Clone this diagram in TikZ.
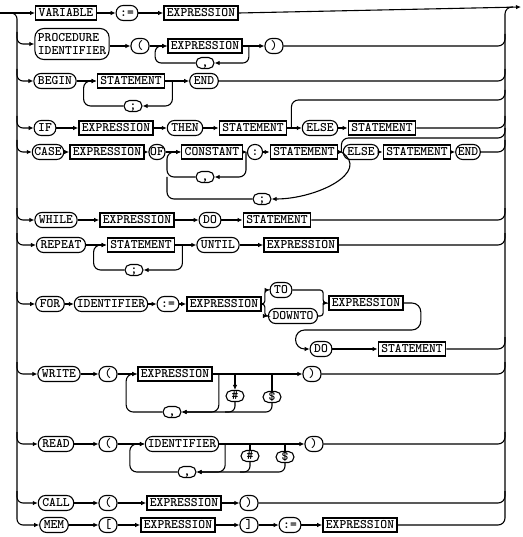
\documentclass[tikz,border=0pt]{standalone}
\usepackage{fontspec}
\usetikzlibrary{arrows.meta,calc}

\begin{document}
\begin{tikzpicture}[x=1pt,y=-1pt,>={Latex[length=5pt,width=4.5pt]},line width=1.1pt,
  every node/.style={font=\ttfamily\bfseries\fontsize{13}{13.5}\selectfont},
  nt/.style={draw,line width=1.4pt,inner xsep=3pt,inner ysep=0pt,minimum height=14pt,text height=8pt,text depth=1pt},
  tm/.style={draw,rounded corners=7pt,inner xsep=4pt,inner ysep=0pt,minimum width=18pt,minimum height=15pt,text height=8pt,text depth=1pt},
  sm/.style={tm,rounded corners=5.5pt,minimum height=11pt,minimum width=18pt},
  tmr/.style={draw,rounded corners=9pt,align=left,inner sep=3pt,minimum height=31pt}]
\useasboundingbox (0,0) rectangle (522,537);
\coordinate (in) at (0,13);
\coordinate (out) at (521,7);
\coordinate (lt) at (17,13);
\coordinate (rt) at (505,7);
\coordinate (by4) at (505,100);
\coordinate (by5) at (505,138);
\node[nt] (var) at (66,13) {VARIABLE};
\node[tm] (as1) at (127,13) {:=};
\node[nt] (ex1) at (201,13) {EXPRESSION};
\draw[->] (in) -- (var);
\draw[->] (var) -- (as1);
\draw[->] (as1) -- (ex1);
\draw[->] (ex1.east) -- (out);
\node[tmr] (proc) at (72,44) {PROCEDURE\\IDENTIFIER};
\node[tm] (lp2) at (140,46) {(};
\node[nt] (ex2) at (205,46) {EXPRESSION};
\node[sm] (cm2) at (205,63) {,};
\node[tm] (rp2) at (274,46) {)};
\draw[->] (proc.east |- lp2) -- (lp2);
\draw[->] (lp2) -- (ex2);
\draw[->] (ex2) -- (rp2);
\draw[->,rounded corners=6pt] ($(ex2.east)+(6,0)$) |- (cm2.east);
\draw[->,rounded corners=6pt] (cm2.west) -| ($(ex2.west)+(-12,0)$) -- (ex2.west);
\node[tm] (bg3) at (55,81) {BEGIN};
\node[nt] (st3) at (131,81) {STATEMENT};
\node[sm] (sc3) at (133,106) {;};
\node[tm] (en3) at (204,81) {END};
\draw[->] (bg3) -- (st3);
\draw[->] (st3) -- (en3);
\draw[->,rounded corners=7pt] ($(st3.east)+(7,0)$) |- (sc3.east);
\draw[->,rounded corners=7pt] (sc3.west) -| ($(st3.west)+(-13,0)$) -- (st3.west);
\node[tm] (if4) at (45,128) {IF};
\node[nt] (ex4) at (116,128) {EXPRESSION};
\node[tm] (th4) at (185,128) {THEN};
\node[nt] (st4) at (253,128) {STATEMENT};
\node[tm] (el4) at (320,128) {ELSE};
\node[nt] (sb4) at (382,128) {STATEMENT};
\draw[->] (if4) -- (ex4);
\draw[->] (ex4) -- (th4);
\draw[->] (th4) -- (st4);
\draw[->] (st4) -- (el4);
\draw[->] (el4) -- (sb4);
\draw[rounded corners=7pt] ($(st4.east)+(4,0)$) |- (by4) -- ++(0,-10);
\node[tm,inner xsep=2pt] (cs5) at (48,152) {CASE};
\node[nt] (ex5) at (107,152) {EXPRESSION};
\node[tm,inner xsep=1pt,minimum width=16pt] (of5) at (157,152) {OF};
\node[nt] (con) at (212,152) {CONSTANT};
\node[tm,minimum width=14pt] (cl5) at (255,152) {:};
\node[nt] (st5) at (304,152) {STATEMENT};
\node[tm] (el5) at (361,152) {ELSE};
\node[nt] (sb5) at (417,152) {STATEMENT};
\node[tm,inner xsep=2pt] (en5) at (468,152) {END};
\node[sm] (cm5) at (205,177) {,};
\node[sm] (sc5) at (262,199) {;};
\draw[->] (cs5) -- (ex5);
\draw[->] (ex5) -- (of5);
\draw[->] (of5) -- (con);
\draw[->] (con) -- (cl5);
\draw[->] (cl5) -- (st5);
\draw[->] (st5) -- (el5);
\draw[->] (el5) -- (sb5);
\draw[->] (sb5) -- (en5);
\draw[->,rounded corners=7pt] ($(con.east)+(3,0)$) |- (cm5.east);
\draw[->,rounded corners=7pt] (cm5.west) -| ($(con.west)+(-14,0)$) -- (con.west);
\draw[->] ($(st5.east)+(3,0)$) .. controls +(30,20) and +(45,0) .. (sc5.east);
\draw[rounded corners=7pt] (sc5.west) -| ($(cm5.west -| con.west)+(-14,0)$);
\draw[rounded corners=7pt] ($(st5.east)+(3,0)$) |- (by5) -- ++(0,-10);
\node[tm] (wh6) at (56,220) {WHILE};
\node[nt] (ex6) at (137,220) {EXPRESSION};
\node[tm] (do6) at (210,220) {DO};
\node[nt] (st6) at (277,220) {STATEMENT};
\draw[->] (wh6) -- (ex6);
\draw[->] (ex6) -- (do6);
\draw[->] (do6) -- (st6);
\node[tm] (rep7) at (61,245) {REPEAT};
\node[nt] (st7) at (141,245) {STATEMENT};
\node[sm] (sc7) at (134,270) {;};
\node[tm] (un7) at (218,245) {UNTIL};
\node[nt] (ex7) at (301,245) {EXPRESSION};
\draw[->] (rep7) -- (st7);
\draw[->] (st7) -- (un7);
\draw[->] (un7) -- (ex7);
\draw[->,rounded corners=7pt] ($(st7.east)+(7,0)$) |- (sc7.east);
\draw[->,rounded corners=7pt] (sc7.west) -| ($(st7.west)+(-13,0)$) -- (st7.west);
\node[tm] (fr8) at (50,304) {FOR};
\node[tm,inner xsep=2.5pt] (id8) at (111,304) {IDENTIFIER};
\node[tm] (as8) at (168,304) {:=};
\node[nt] (ex8) at (224,304) {EXPRESSION};
\node[tm] (to8) at (281,290) {TO};
\node[tm] (dt8) at (293,316) {DOWNTO};
\node[nt] (eb8) at (366,303) {EXPRESSION};
\node[tm] (do8) at (321,349) {DO};
\node[nt] (st8) at (412,349) {STATEMENT};
\draw[->] (fr8) -- (id8);
\draw[->] (id8) -- (as8);
\draw[->] (as8) -- (ex8);
\draw[->,rounded corners=3pt] (ex8.east) -- ++(3,0) |- (to8.west);
\draw[->,rounded corners=3pt] (ex8.east) -- ++(3,0) |- (dt8.west);
\draw[->,rounded corners=3pt] (to8.east) -| ($(eb8.west)+(-5,0)$) -- (eb8.west);
\draw[rounded corners=3pt] (dt8.east) -| ($(eb8.west)+(-5,0)$);
\draw[->,rounded corners=9pt] (eb8.east) -| ++(17,27) -| ($(do8.west)+(-14,0)$) -- (do8.west);
\draw[->] (do8) -- (st8);
\node[tm] (wr9) at (59,374) {WRITE};
\node[tm] (lp9) at (108,374) {(};
\node[nt] (ex9) at (175,374) {EXPRESSION};
\node[tm] (rp9) at (312,374) {)};
\node[sm] (cm9) at (172,412) {,};
\node[sm] (hs9) at (235,396) {\#};
\node[sm] (dl9) at (272,397) {\$};
\draw[->] (wr9) -- (lp9);
\draw[->] (lp9) -- (ex9);
\draw[->] (ex9) -- (rp9);
\draw[->,rounded corners=7pt] ($(ex9.east)+(6,0)$) |- (cm9.east);
\draw[->,rounded corners=7pt] (cm9.west) -| ($(ex9.west)+(-11,0)$) -- (ex9.west);
\draw[->] (hs9.north |- ex9.east) -- (hs9.north);
\draw[rounded corners=6pt] (hs9.south) |- ($(hs9.south |- cm9)+(-10,0)$);
\draw (dl9.north |- ex9.east) -- (dl9.north);
\draw[->,rounded corners=6pt] (dl9.south) |- (cm9.east);
\node[tm] (rd10) at (56,444) {READ};
\node[tm] (lp10) at (108,444) {(};
\node[tm,inner xsep=2.5pt] (id10) at (182,444) {IDENTIFIER};
\node[tm] (rp10) at (314,444) {)};
\node[sm] (cm10) at (187,472) {,};
\node[sm] (hs10) at (250,456) {\#};
\node[sm] (dl10) at (285,457) {\$};
\draw[->] (rd10) -- (lp10);
\draw[->] (lp10) -- (id10);
\draw[->] (id10) -- (rp10);
\draw[->,rounded corners=7pt] ($(id10.east)+(6,0)$) |- (cm10.east);
\draw[->,rounded corners=7pt] (cm10.west) -| ($(id10.west)+(-15,0)$) -- (id10.west);
\draw (hs10.north |- id10.east) -- (hs10.north);
\draw[rounded corners=6pt] (hs10.south) |- ($(hs10.south |- cm10)+(-10,0)$);
\draw (dl10.north |- id10.east) -- (dl10.north);
\draw[->,rounded corners=6pt] (dl10.south) |- (cm10.east);
\node[tm] (cl11) at (56,503) {CALL};
\node[tm] (lp11) at (108,503) {(};
\node[nt] (ex11) at (184,503) {EXPRESSION};
\node[tm] (rp11) at (249,503) {)};
\draw[->] (cl11) -- (lp11);
\draw[->] (lp11) -- (ex11);
\draw[->] (ex11) -- (rp11);
\node[tm] (mm12) at (54,525) {MEM};
\node[tm] (lb12) at (108,525) {[};
\node[nt] (ex12) at (178,525) {EXPRESSION};
\node[tm] (rb12) at (249,525) {]};
\node[tm] (as12) at (290,525) {:=};
\node[nt] (eb12) at (360,525) {EXPRESSION};
\draw[->] (mm12) -- (lb12);
\draw[->] (lb12) -- (ex12);
\draw[->] (ex12) -- (rb12);
\draw[->] (rb12) -- (as12);
\draw[->] (as12) -- (eb12);
\draw[->,rounded corners=6pt] ($(in)+(8,0)$) -| (lt |- mm12.west) -- (mm12.west);
\draw[->,rounded corners=6pt] ($(lt |- proc.west)+(0,-12)$) |- (proc.west);
\draw[->,rounded corners=6pt] ($(lt |- bg3.west)+(0,-12)$) |- (bg3.west);
\draw[->,rounded corners=6pt] ($(lt |- if4.west)+(0,-12)$) |- (if4.west);
\draw[->,rounded corners=6pt] ($(lt |- cs5.west)+(0,-12)$) |- (cs5.west);
\draw[->,rounded corners=6pt] ($(lt |- wh6.west)+(0,-12)$) |- (wh6.west);
\draw[->,rounded corners=6pt] ($(lt |- rep7.west)+(0,-12)$) |- (rep7.west);
\draw[->,rounded corners=6pt] ($(lt |- fr8.west)+(0,-12)$) |- (fr8.west);
\draw[->,rounded corners=6pt] ($(lt |- wr9.west)+(0,-12)$) |- (wr9.west);
\draw[->,rounded corners=6pt] ($(lt |- rd10.west)+(0,-12)$) |- (rd10.west);
\draw[->,rounded corners=6pt] ($(lt |- cl11.west)+(0,-12)$) |- (cl11.west);
\draw[rounded corners=7pt] (eb12.east) -| (rt) -- ++(8,0);
\draw[rounded corners=7pt] (rp2.east) -| ($(rt |- rp2.east)+(0,-12)$);
\draw[rounded corners=7pt] (en3.east) -| ($(rt |- en3.east)+(0,-12)$);
\draw[rounded corners=7pt] (sb4.east) -| ($(rt |- sb4.east)+(0,-12)$);
\draw[rounded corners=7pt] (en5.east) -| ($(rt |- en5.east)+(0,-12)$);
\draw[rounded corners=7pt] (st6.east) -| ($(rt |- st6.east)+(0,-12)$);
\draw[rounded corners=7pt] (ex7.east) -| ($(rt |- ex7.east)+(0,-12)$);
\draw[rounded corners=7pt] (st8.east) -| ($(rt |- st8.east)+(0,-12)$);
\draw[rounded corners=7pt] (rp9.east) -| ($(rt |- rp9.east)+(0,-12)$);
\draw[rounded corners=7pt] (rp10.east) -| ($(rt |- rp10.east)+(0,-12)$);
\draw[rounded corners=7pt] (rp11.east) -| ($(rt |- rp11.east)+(0,-12)$);
\end{tikzpicture}
\end{document}
